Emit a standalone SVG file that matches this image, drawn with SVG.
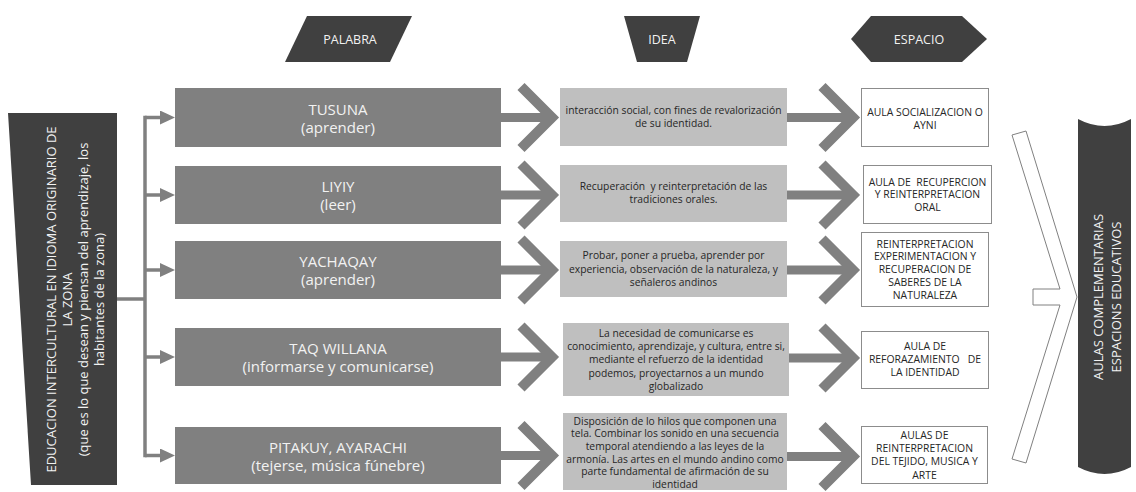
<svg xmlns="http://www.w3.org/2000/svg" width="1136" height="492" viewBox="0 0 1136 492">
<style>
.dark{fill:#404040}
.pal{fill:#808080}
.idea{fill:#bfbfbf}
.esp{fill:#ffffff;stroke:#8c8c8c;stroke-width:1}
.tw{fill:#f2f2f2;font-family:"Open Sans","DejaVu Sans",sans-serif;text-anchor:middle}
.tb{fill:#262626;font-family:"Open Sans","DejaVu Sans",sans-serif;text-anchor:middle;font-size:10.3px}
.th{font-size:12.5px}
.tp{font-size:15px}
.te{font-size:10.4px}
.tl{font-size:13px}
.ln{fill:none;stroke:#808080;stroke-width:3.5}
.sh{fill:none;stroke:#808080;stroke-width:9}
.cv{fill:none;stroke:#808080;stroke-width:10;stroke-linejoin:miter;stroke-miterlimit:10}
</style>
<defs>
<marker id="ah" markerUnits="userSpaceOnUse" markerWidth="15" markerHeight="14" refX="8" refY="7" orient="auto">
<path d="M0,0 L15,7 L0,14 Z" fill="#808080"/>
</marker>
</defs>

<g id="connectors">
<path class="ln" d="M117,299 H145"/>
<path class="ln" d="M145,115.75 V457.25"/>
<path class="ln" d="M145,117.5 H168" marker-end="url(#ah)"/>
<path class="ln" d="M145,195 H168" marker-end="url(#ah)"/>
<path class="ln" d="M145,270 H168" marker-end="url(#ah)"/>
<path class="ln" d="M145,357 H168" marker-end="url(#ah)"/>
<path class="ln" d="M145,455.5 H168" marker-end="url(#ah)"/>

<path class="sh" d="M501,117.5 H548 M501,195 H548 M501,270 H548 M501,357 H548 M501,455.5 H548"/>
<path class="cv" d="M521,86.5 L552,117.5 L521,148.5 M521,164 L552,195 L521,226 M521,239 L552,270 L521,301 M521,326 L552,357 L521,388 M521,424.5 L552,455.5 L521,486.5"/>

<path class="sh" d="M787,117.5 H850 M787,195 H850 M787,270 H850 M789,358 H850 M787,456.5 H850"/>
<path class="cv" d="M822,86.5 L853,117.5 L822,148.5 M822,164 L853,195 L822,226 M822,239 L853,270 L822,301 M822,327 L853,358 L822,389 M822,425.5 L853,456.5 L822,487.5"/>

<polygon points="1012,135 1026,131 1077,297 1026,463 1012,459 1060,305 1033,305 1033,289 1060,289" fill="#ffffff" stroke="#808080" stroke-width="1"/>
</g>

<g id="header-palabra">
<polygon class="dark" points="307,16 412,16 390,62 285,62"/>
<text class="tw th" x="350" y="44">PALABRA</text>
</g>
<g id="header-idea">
<polygon class="dark" points="624,16 700,16 687,62 637,62"/>
<text class="tw th" x="662" y="44">IDEA</text>
</g>
<g id="header-espacio">
<polygon class="dark" points="851,39 871,16 962,16 987,39 962,62 871,62"/>
<text class="tw th" x="919" y="44">ESPACIO</text>
</g>

<g id="left-bar">
<polygon class="dark" points="8,113 117,113 117,485 31,485"/>
<g transform="translate(56,299.5) rotate(-90)">
<text class="tw tl" x="0" y="0">EDUCACION INTERCULTURAL EN IDIOMA ORIGINARIO DE</text>
<text class="tw tl" x="0" y="16">LA ZONA</text>
<text class="tw tl" x="0" y="32">(que es lo que desean y piensan del aprendizaje, los</text>
<text class="tw tl" x="0" y="48">habitantes de la zona)</text>
</g>
</g>

<g id="palabra-1">
<rect class="pal" x="175" y="88" width="326" height="59"/>
<text class="tw tp" x="338" y="114.5">TUSUNA</text>
<text class="tw tp" x="338" y="132.5">(aprender)</text>
</g>
<g id="palabra-2">
<rect class="pal" x="175" y="166" width="326" height="58"/>
<text class="tw tp" x="338" y="192">LIYIY</text>
<text class="tw tp" x="338" y="210">(leer)</text>
</g>
<g id="palabra-3">
<rect class="pal" x="175" y="241" width="326" height="58"/>
<text class="tw tp" x="338" y="267">YACHAQAY</text>
<text class="tw tp" x="338" y="285">(aprender)</text>
</g>
<g id="palabra-4">
<rect class="pal" x="175" y="328" width="326" height="58"/>
<text class="tw tp" x="338" y="354">TAQ WILLANA</text>
<text class="tw tp" x="338" y="372">(informarse y comunicarse)</text>
</g>
<g id="palabra-5">
<rect class="pal" x="175" y="427" width="326" height="57"/>
<text class="tw tp" x="338" y="452.5">PITAKUY, AYARACHI</text>
<text class="tw tp" x="338" y="470.5">(tejerse, música fúnebre)</text>
</g>

<g id="idea-1">
<rect class="idea" x="560" y="88" width="227" height="58"/>
<text class="tb" x="673.5" y="114">interacción social, con fines de revalorización</text>
<text class="tb" x="673.5" y="127">de su identidad.</text>
</g>
<g id="idea-2">
<rect class="idea" x="560" y="165" width="227" height="57"/>
<text class="tb" x="673.5" y="190" xml:space="preserve">Recuperación  y reinterpretación de las</text>
<text class="tb" x="673.5" y="203">tradiciones orales.</text>
</g>
<g id="idea-3">
<rect class="idea" x="560" y="241" width="227" height="56"/>
<text class="tb" x="673.5" y="259.3">Probar, poner a prueba, aprender por</text>
<text class="tb" x="673.5" y="272.6">experiencia, observación de la naturaleza, y</text>
<text class="tb" x="673.5" y="285.9">señaleros andinos</text>
</g>
<g id="idea-4">
<rect class="idea" x="563" y="323" width="226" height="73"/>
<text class="tb" x="676" y="336.6">La necesidad de comunicarse es</text>
<text class="tb" x="676" y="349.9">conocimiento, aprendizaje, y cultura, entre si,</text>
<text class="tb" x="676" y="363.2">mediante el refuerzo de la identidad</text>
<text class="tb" x="676" y="376.5">podemos, proyectarnos a un mundo</text>
<text class="tb" x="676" y="389.8">globalizado</text>
</g>
<g id="idea-5">
<rect class="idea" x="563" y="413" width="224" height="77"/>
<text class="tb" x="675" y="424.5">Disposición de lo hilos que componen una</text>
<text class="tb" x="675" y="437.2">tela. Combinar los sonido en una secuencia</text>
<text class="tb" x="675" y="449.9">temporal atendiendo a las leyes de la</text>
<text class="tb" x="675" y="462.6">armonía. Las artes en el mundo andino como</text>
<text class="tb" x="675" y="475.3">parte fundamental de afirmación de su</text>
<text class="tb" x="675" y="488">identidad</text>
</g>

<g id="espacio-1">
<rect class="esp" x="861.5" y="88.5" width="127" height="58"/>
<text class="tb te" x="925" y="116">AULA SOCIALIZACION O</text>
<text class="tb te" x="925" y="129">AYNI</text>
</g>
<g id="espacio-2">
<rect class="esp" x="863.5" y="165.5" width="128" height="58"/>
<text class="tb te" x="927.5" y="185.5" xml:space="preserve">AULA DE  RECUPERCION</text>
<text class="tb te" x="927.5" y="198.3">Y REINTERPRETACION</text>
<text class="tb te" x="927.5" y="211.1">ORAL</text>
</g>
<g id="espacio-3">
<rect class="esp" x="861.5" y="232.5" width="127" height="74"/>
<text class="tb te" x="925" y="247.7">REINTERPRETACION</text>
<text class="tb te" x="925" y="260.4">EXPERIMENTACION Y</text>
<text class="tb te" x="925" y="273.1">RECUPERACION DE</text>
<text class="tb te" x="925" y="285.8">SABERES DE LA</text>
<text class="tb te" x="925" y="298.5">NATURALEZA</text>
</g>
<g id="espacio-4">
<rect class="esp" x="861.5" y="331.5" width="127" height="57"/>
<text class="tb te" x="925" y="349.5">AULA DE</text>
<text class="tb te" x="925" y="362.8" xml:space="preserve">REFORAZAMIENTO   DE</text>
<text class="tb te" x="925" y="376">LA IDENTIDAD</text>
</g>
<g id="espacio-5">
<rect class="esp" x="861.5" y="426.5" width="126" height="57"/>
<text class="tb te" x="924.5" y="438.7">AULAS DE</text>
<text class="tb te" x="924.5" y="452">REINTERPRETACION</text>
<text class="tb te" x="924.5" y="465.3">DEL TEJIDO, MUSICA Y</text>
<text class="tb te" x="924.5" y="478.6">ARTE</text>
</g>

<g id="aulas-complementarias">
<path class="dark" d="M1078,119 Q1104.5,133 1131,119 L1131,467 Q1104.5,481 1078,467 Z"/>
<g transform="translate(1103,297) rotate(-90)">
<text class="tw tl" x="0" y="0">AULAS COMPLEMENTARIAS</text>
<text class="tw tl" x="0" y="18">ESPACIONS EDUCATIVOS</text>
</g>
</g>
</svg>
